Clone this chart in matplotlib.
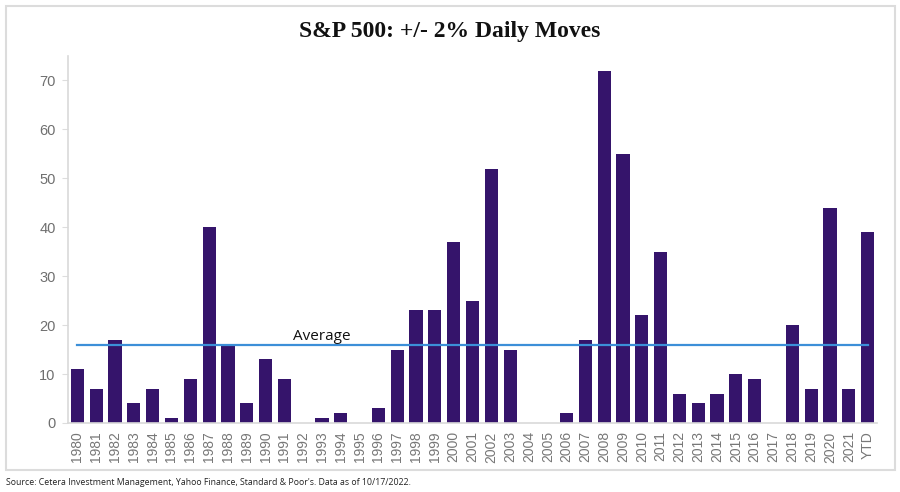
import matplotlib
matplotlib.use("Agg")
import matplotlib.pyplot as plt
from matplotlib.patches import Rectangle

years = [str(y) for y in range(1980, 2022)] + ["YTD"]
moves = [11, 7, 17, 4, 7, 1, 9, 40, 16, 4, 13, 9, 0, 1, 2, 0, 3, 15, 23, 23, 37,
         25, 52, 15, 0, 0, 2, 17, 72, 55, 22, 35, 6, 4, 6, 10, 9, 0, 20, 7, 44, 7, 39]
average = [16] * len(years)

W, H = 900, 492
fig = plt.figure(figsize=(9, 4.92), dpi=100)

# grey frame around the chart
fig.patches.append(Rectangle((6 / W, 1 - 470 / H), 889 / W, 464 / H, transform=fig.transFigure,
                             fill=False, edgecolor="#dcdcdc", linewidth=1.5))

ax = fig.add_axes([68 / W, 1 - 423 / H, 809 / W, 367 / H])
x = list(range(len(years)))
ax.bar(x, moves, width=0.7, color="#35146b")
ax.plot(x, average, color="#3c8fd8", linewidth=1.6)
ax.text(13, 16.2, "Average", fontsize=11, family="Open Sans", color="#111111", ha="center", va="bottom")

ax.set_xlim(-0.5, len(years) - 0.5)
ax.set_ylim(0, 75)
ax.set_yticks(range(0, 71, 10))
ax.set_xticks(x)
ax.set_xticklabels(years, rotation=90, family="Liberation Sans")
ax.tick_params(axis="x", length=0, labelsize=10, labelcolor="#777777", pad=6)
ax.tick_params(axis="y", length=4, width=0.8, color="#dddddd", labelsize=10.5, labelcolor="#6f6f6f", pad=5)
for label in ax.get_yticklabels():
    label.set_family("Liberation Sans")
ax.spines["top"].set_visible(False)
ax.spines["right"].set_visible(False)
ax.spines["left"].set_color("#d9d9d9")
ax.spines["bottom"].set_color("#d9d9d9")
ax.spines["left"].set_linewidth(1.2)
ax.spines["bottom"].set_linewidth(1.2)

fig.text(450 / W, 1 - 31 / H, "S&P 500: +/- 2% Daily Moves", family="Liberation Serif", weight="bold",
         fontsize=17, ha="center", va="center", color="#111111")
fig.text(6 / W, 1 - 482.5 / H, "Source: Cetera Investment Management, Yahoo Finance, Standard & Poor's. Data as of 10/17/2022.",
         family="Open Sans", fontsize=6.35, ha="left", va="center", color="#222222")

fig.savefig("out.png", dpi=100)
